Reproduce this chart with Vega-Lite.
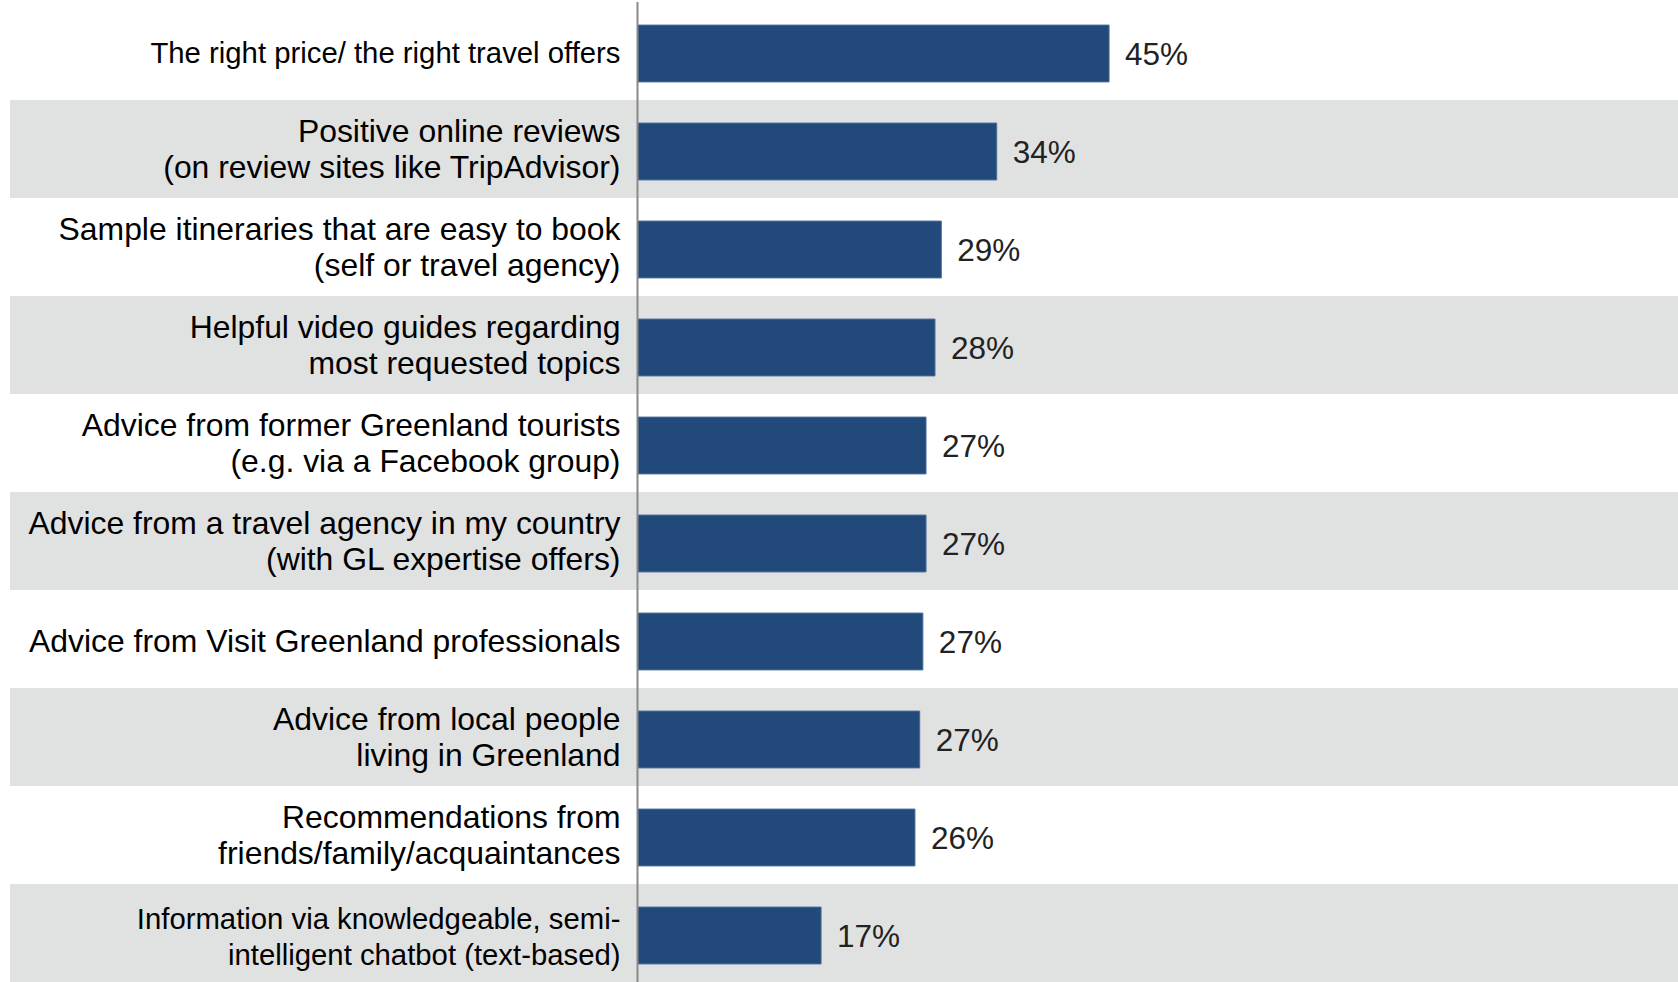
{
  "$schema": "https://vega.github.io/schema/vega-lite/v6.json",
  "width": 1668,
  "height": 980,
  "padding": {"left": 10, "top": 2, "right": 0, "bottom": 0},
  "autosize": {"type": "none"},
  "background": "white",
  "config": {"view": {"stroke": null}, "font": "Liberation Sans"},
  "data": {
    "values": [
      {"item": "price", "label": "The right price/ the right travel offers", "value": 0.447},
      {"item": "reviews", "label": "Positive online reviews\n(on review sites like TripAdvisor)", "value": 0.3405},
      {"item": "itineraries", "label": "Sample itineraries that are easy to book\n(self or travel agency)", "value": 0.288},
      {"item": "video", "label": "Helpful video guides regarding\nmost requested topics", "value": 0.282},
      {"item": "tourists", "label": "Advice from former Greenland tourists\n(e.g. via a Facebook group)", "value": 0.2735},
      {"item": "agency", "label": "Advice from a travel agency in my country\n(with GL expertise offers)", "value": 0.2735},
      {"item": "visit", "label": "Advice from Visit Greenland professionals", "value": 0.2705},
      {"item": "local", "label": "Advice from local people\nliving in Greenland", "value": 0.2675},
      {"item": "friends", "label": "Recommendations from\nfriends/family/acquaintances", "value": 0.263},
      {"item": "chatbot", "label": "Information via knowledgeable, semi-\nintelligent chatbot (text-based)", "value": 0.174}
    ]
  },
  "layer": [
    {
      "transform": [
        {"window": [{"op": "row_number", "as": "rn"}]},
        {"filter": "datum.rn % 2 == 0"}
      ],
      "mark": {"type": "rect", "color": "#e0e1e1"},
      "encoding": {
        "y": {
          "field": "item", "type": "nominal", "sort": null, "axis": null,
          "scale": {
            "domain": ["price", "reviews", "itineraries", "video", "tourists", "agency", "visit", "local", "friends", "chatbot"],
            "paddingInner": 0, "paddingOuter": 0
          }
        },
        "x": {"datum": -0.5948, "type": "quantitative", "scale": {"domain": [-0.5948, 0.9863], "nice": false, "zero": false}, "axis": null},
        "x2": {"datum": 0.9863}
      }
    },
    {
      "mark": {"type": "bar", "color": "#21497a", "stroke": "#4a6c98", "strokeWidth": 1, "height": {"band": 0.58}, "yOffset": 2.5},
      "encoding": {
        "y": {"field": "item", "type": "nominal", "sort": null, "axis": null},
        "x": {"field": "value", "type": "quantitative", "axis": null}
      }
    },
    {
      "data": {"values": [{"v": 0}]},
      "mark": {"type": "rule", "color": "#8a8a8a", "strokeWidth": 2},
      "encoding": {
        "x": {"datum": 0, "type": "quantitative"}
      }
    },
    {
      "mark": {
        "type": "text", "align": "right", "baseline": "middle", "dx": -17,
        "dy": {"expr": "indexof(datum.label, '\\n') < 0 ? 3.2 : (datum.item == 'chatbot' ? -13 : -17)"},
        "fontSize": {"expr": "datum.item == 'price' || datum.item == 'chatbot' ? 29.3 : 31.9"},
        "lineBreak": "\n", "lineHeight": 36.4, "color": "#000000"
      },
      "encoding": {
        "y": {"field": "item", "type": "nominal", "sort": null, "axis": null},
        "x": {"datum": 0, "type": "quantitative"},
        "text": {"field": "label", "type": "nominal"}
      }
    },
    {
      "mark": {"type": "text", "align": "left", "baseline": "middle", "dx": 16, "yOffset": 5, "fontSize": 31.5, "color": "#222222"},
      "encoding": {
        "y": {"field": "item", "type": "nominal", "sort": null, "axis": null},
        "x": {"field": "value", "type": "quantitative"},
        "text": {"field": "value", "type": "quantitative", "format": ".0%"}
      }
    }
  ]
}
